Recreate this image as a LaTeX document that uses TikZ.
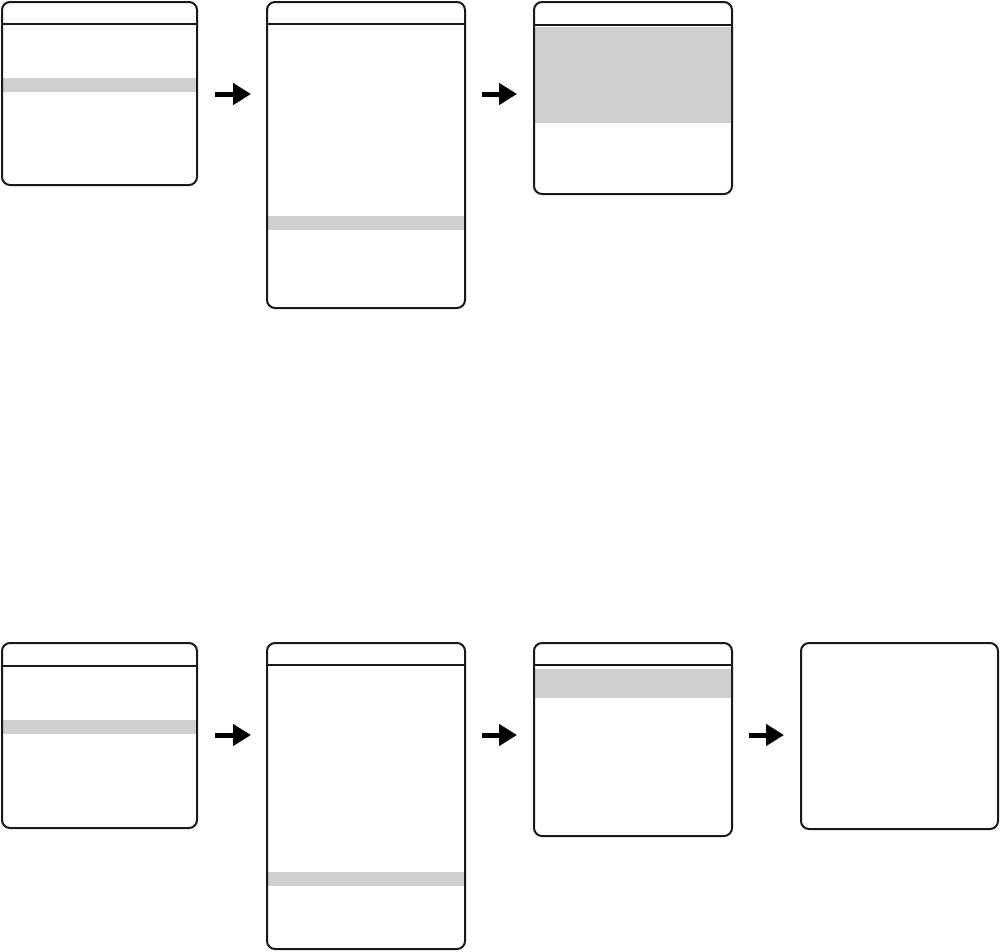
\documentclass[tikz,border=0pt]{standalone}
\usetikzlibrary{arrows.meta}
\begin{document}
\begin{tikzpicture}[x=1pt,y=-1pt,
  screen/.style={draw=black!90, line width=2pt, rounded corners=8pt, fill=none},
  band/.style={fill=black!19},
  head/.style={draw=black!90, line width=2pt},
  blockarrow/.style={line width=5pt, -{Triangle[length=18pt,width=21pt]}}]
\useasboundingbox (0,0) rectangle (1000,951);
% ---- top row ----
\fill[band] (2,78) rectangle (197,92);
\draw[screen] (2,2) rectangle (197,185);
\draw[head] (2,24) -- (197,24);
\coordinate (b1) at (197,94);

\fill[band] (267,216) rectangle (465,230);
\draw[screen] (267,2) rectangle (465,308);
\draw[head] (267,24) -- (465,24);

\fill[band] (534,27) rectangle (732,123);
\draw[screen] (534,2) rectangle (732,194);
\draw[head] (534,25) -- (732,25);

\coordinate (a1s) at (215,94); \coordinate (a1e) at (251,94);
\coordinate (a2s) at (482,94); \coordinate (a2e) at (517,94);
\draw[blockarrow] (a1s) -- (a1e);
\draw[blockarrow] (a2s) -- (a2e);

% ---- bottom row ----
\fill[band] (2,720) rectangle (197,734);
\draw[screen] (2,643) rectangle (197,828);
\draw[head] (2,666) -- (197,666);

\fill[band] (267,872) rectangle (465,886);
\draw[screen] (267,643) rectangle (465,949);
\draw[head] (267,665) -- (465,665);

\fill[band] (534,669) rectangle (732,698);
\draw[screen] (534,643) rectangle (732,836);
\draw[head] (534,665) -- (732,665);

\draw[screen] (801,643) rectangle (998,829);

\coordinate (a3s) at (215,735); \coordinate (a3e) at (251,735);
\coordinate (a4s) at (482,735); \coordinate (a4e) at (517,735);
\coordinate (a5s) at (749,735); \coordinate (a5e) at (784,735);
\draw[blockarrow] (a3s) -- (a3e);
\draw[blockarrow] (a4s) -- (a4e);
\draw[blockarrow] (a5s) -- (a5e);
\end{tikzpicture}
\end{document}
